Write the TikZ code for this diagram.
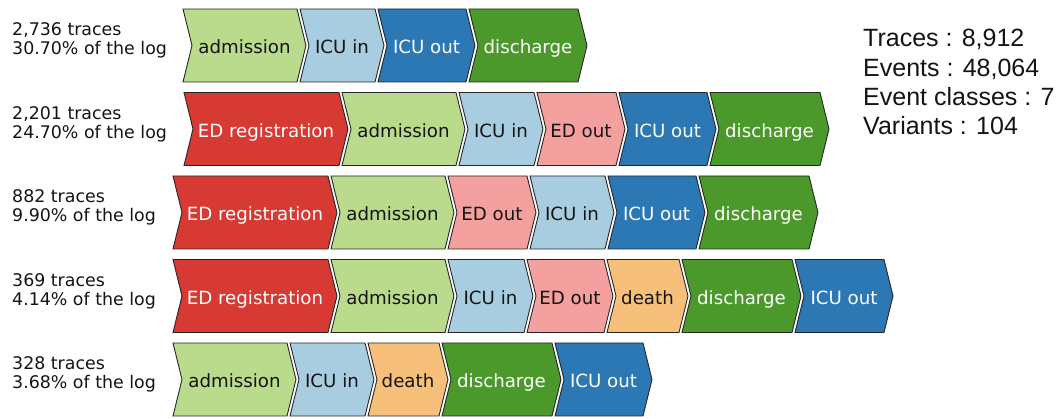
\documentclass[tikz,border=0pt]{standalone}
\usepackage{fontspec}
\setmainfont{DejaVu Sans}
\newfontfamily\statfont{Liberation Sans}

\definecolor{cAdm}{RGB}{186,218,140}
\definecolor{cIcuIn}{RGB}{168,205,225}
\definecolor{cIcuOut}{RGB}{44,120,180}
\definecolor{cDis}{RGB}{74,153,42}
\definecolor{cEdReg}{RGB}{214,58,50}
\definecolor{cEdOut}{RGB}{243,160,158}
\definecolor{cDeath}{RGB}{247,192,122}

\tikzset{
  evt/.style={draw=black!85, line width=0.9pt, line join=miter},
  adm/.style={evt, fill=cAdm},
  icuin/.style={evt, fill=cIcuIn},
  icuout/.style={evt, fill=cIcuOut},
  dis/.style={evt, fill=cDis},
  edreg/.style={evt, fill=cEdReg},
  edout/.style={evt, fill=cEdOut},
  death/.style={evt, fill=cDeath},
  darktxt/.style={text=black!92, font=\fontsize{18.2}{20}\selectfont, inner sep=0pt},
  lighttxt/.style={text=white, font=\fontsize{18.2}{20}\selectfont, inner sep=0pt},
  rowlabel/.style={anchor=base west, inner sep=0pt, text=black!92, font=\fontsize{17.4}{20}\selectfont},
  statline/.style={anchor=base west, inner sep=0pt, text=black!92, font=\statfont\fontsize{25}{29}\selectfont},
}

% #1 name, #2 left x, #3 row middle y, #4 body width, #5 shape style, #6 text style, #7 label
\newcommand{\evtbox}[7]{%
  \draw[#5] (#2,#3-36.5) -- (#2+#4,#3-36.5) -- (#2+#4+9,#3) -- (#2+#4,#3+36.5)
            -- (#2,#3+36.5) -- (#2+9,#3) -- cycle;
  \node[#6, anchor=base] (#1) at (#2+#4/2+4.5,#3+8.5) {#7};
}

\begin{document}
\begin{tikzpicture}[x=1pt, y=-1pt]
\useasboundingbox (0,0) rectangle (1058,419);

% row 1
\node[rowlabel] (l1a) at (12,36) {2,736 traces};
\node[rowlabel] (l1b) at (12,55) {30.70\% of the log};
\evtbox{r1a}{183}{45.5}{114}{adm}{darktxt}{admission}
\evtbox{r1b}{300}{45.5}{75}{icuin}{darktxt}{ICU in}
\evtbox{r1c}{378}{45.5}{88}{icuout}{lighttxt}{ICU out}
\evtbox{r1d}{469}{45.5}{109}{dis}{lighttxt}{discharge}

% row 2
\node[rowlabel] (l2a) at (12,119.5) {2,201 traces};
\node[rowlabel] (l2b) at (12,138.5) {24.70\% of the log};
\evtbox{r2a}{184}{129}{155}{edreg}{lighttxt}{ED registration}
\evtbox{r2b}{342}{129}{114}{adm}{darktxt}{admission}
\evtbox{r2c}{459}{129}{75}{icuin}{darktxt}{ICU in}
\evtbox{r2d}{537}{129}{79}{edout}{darktxt}{ED out}
\evtbox{r2e}{619}{129}{88}{icuout}{lighttxt}{ICU out}
\evtbox{r2f}{710}{129}{110}{dis}{lighttxt}{discharge}

% row 3
\node[rowlabel] (l3a) at (12,203) {882 traces};
\node[rowlabel] (l3b) at (12,222) {9.90\% of the log};
\evtbox{r3a}{173}{212.5}{155}{edreg}{lighttxt}{ED registration}
\evtbox{r3b}{331}{212.5}{114}{adm}{darktxt}{admission}
\evtbox{r3c}{448}{212.5}{79}{edout}{darktxt}{ED out}
\evtbox{r3d}{530}{212.5}{75}{icuin}{darktxt}{ICU in}
\evtbox{r3e}{608}{212.5}{88}{icuout}{lighttxt}{ICU out}
\evtbox{r3f}{699}{212.5}{110}{dis}{lighttxt}{discharge}

% row 4
\node[rowlabel] (l4a) at (12,286.5) {369 traces};
\node[rowlabel] (l4b) at (12,305.5) {4.14\% of the log};
\evtbox{r4a}{173}{296}{155}{edreg}{lighttxt}{ED registration}
\evtbox{r4b}{331}{296}{114}{adm}{darktxt}{admission}
\evtbox{r4c}{448}{296}{76}{icuin}{darktxt}{ICU in}
\evtbox{r4d}{527}{296}{77}{edout}{darktxt}{ED out}
\evtbox{r4e}{607}{296}{72}{death}{darktxt}{death}
\evtbox{r4f}{682}{296}{110}{dis}{lighttxt}{discharge}
\evtbox{r4g}{795}{296}{89}{icuout}{lighttxt}{ICU out}

% row 5
\node[rowlabel] (l5a) at (12,370) {328 traces};
\node[rowlabel] (l5b) at (12,389) {3.68\% of the log};
\evtbox{r5a}{173}{379.5}{114}{adm}{darktxt}{admission}
\evtbox{r5b}{290}{379.5}{75}{icuin}{darktxt}{ICU in}
\evtbox{r5c}{368}{379.5}{71}{death}{darktxt}{death}
\evtbox{r5d}{442}{379.5}{110}{dis}{lighttxt}{discharge}
\evtbox{r5e}{555}{379.5}{88}{icuout}{lighttxt}{ICU out}

% log statistics
\node[statline] (s1) at (863,47) {Traces : 8,912};
\node[statline] (s2) at (863,76.3) {Events : 48,064};
\node[statline] (s3) at (863,105.6) {Event classes : 7};
\node[statline] (s4) at (863,135) {Variants : 104};
\end{tikzpicture}
\end{document}
